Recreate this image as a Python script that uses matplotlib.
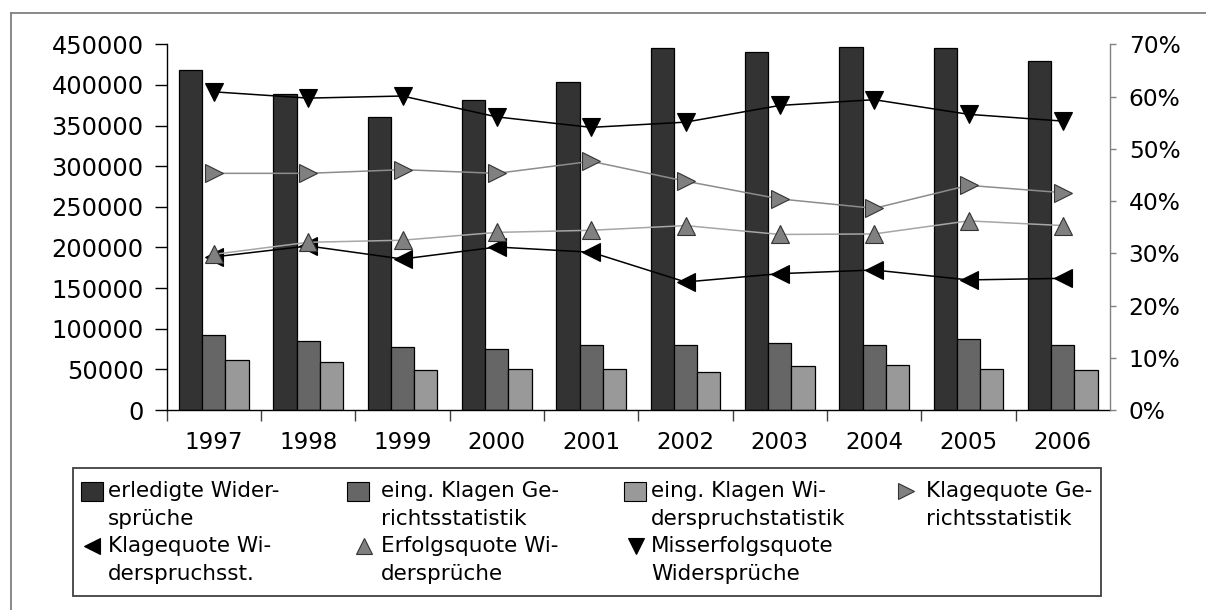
import matplotlib
matplotlib.use("Agg")
import matplotlib.pyplot as plt
from matplotlib.patches import Rectangle
from matplotlib.lines import Line2D
from matplotlib.ticker import FuncFormatter, FixedLocator
import numpy as np

plt.rcParams['font.family'] = ['DejaVu Sans']

years = ["1997", "1998", "1999", "2000", "2001", "2002", "2003", "2004", "2005", "2006"]

# absolute counts (left axis)
erledigte_widersprueche = [418000, 389000, 360000, 382000, 404000, 445000, 440000, 447000, 445000, 430000]
klagen_gerichtsstatistik = [92200, 84800, 77900, 75400, 80000, 80000, 82800, 80000, 87300, 80000]
klagen_widerspruchstatistik = [61000, 58600, 48800, 50800, 50800, 46300, 53700, 55700, 50800, 48800]

# rates in percent (right axis)
klagequote_gericht = [45.3, 45.3, 46.0, 45.3, 47.6, 43.8, 40.4, 38.6, 43.0, 41.6]
klagequote_widerspruch = [29.3, 31.4, 28.9, 31.2, 30.2, 24.5, 26.1, 26.8, 24.9, 25.2]
erfolgsquote = [29.8, 32.1, 32.5, 34.0, 34.4, 35.3, 33.6, 33.7, 36.2, 35.3]
misserfolgsquote = [60.9, 59.7, 60.1, 56.1, 54.1, 55.1, 58.3, 59.4, 56.6, 55.3]

bar_labels = ["erledigte Wider-\nsprüche",
              "eing. Klagen Ge-\nrichtsstatistik",
              "eing. Klagen Wi-\nderspruchstatistik"]
line_labels = ["Klagequote Ge-\nrichtsstatistik",
               "Klagequote Wi-\nderspruchsst.",
               "Erfolgsquote Wi-\ndersprüche",
               "Misserfolgsquote\nWidersprüche"]

bar_colors = ["#333333", "#666666", "#999999"]
line_styles = [  # marker, line colour, marker face, marker edge
    (">", "#8c8c8c", "#808080", "#333333"),
    ("<", "black", "black", "black"),
    ("^", "#a6a6a6", "#808080", "#333333"),
    ("v", "black", "black", "black"),
]

W, H = 1206, 610
fig = plt.figure(figsize=(W / 100, H / 100), dpi=100)


def fx(px):
    return px / W


def fy(py):
    return 1 - py / H


# outer frame (left and top edges)
fig.add_artist(Line2D([fx(11), fx(11)], [0, fy(12.7)], transform=fig.transFigure,
                      color="#808080", lw=1.3))
fig.add_artist(Line2D([fx(11), 1], [fy(12.7), fy(12.7)], transform=fig.transFigure,
                      color="#808080", lw=1.3))

ax = fig.add_axes([fx(166.7), fy(410), (1110 - 166.7) / W, (410 - 44.3) / H])
x = np.arange(len(years))
bw = 0.246
for i, (vals, col) in enumerate(zip([erledigte_widersprueche, klagen_gerichtsstatistik,
                                      klagen_widerspruchstatistik], bar_colors)):
    ax.bar(x + (i - 1) * bw, vals, width=bw, color=col, edgecolor="black", linewidth=0.9)

ax.set_xlim(-0.5, len(years) - 0.5)
ax.set_ylim(0, 450000)
ax.set_yticks(np.arange(0, 450001, 50000))
ax.yaxis.set_major_formatter(FuncFormatter(lambda v, p: f"{int(v)}"))
ax.set_xticks(x)
ax.set_xticklabels(years)
ax.xaxis.set_minor_locator(FixedLocator(np.arange(-0.5, len(years) - 1, 1.0)))
ax.tick_params(axis="x", which="major", length=0, pad=15, labelsize=16.5)
ax.tick_params(axis="x", which="minor", length=8, width=1, color="#404040", direction="out")
ax.tick_params(axis="y", length=8.6, width=1, pad=8, labelsize=17.3, direction="out")
ax.spines["top"].set_visible(False)
ax.spines["right"].set_visible(False)
for s in ("left", "bottom"):
    ax.spines[s].set_linewidth(1.0)

ax2 = ax.twinx()
ax2.set_ylim(0, 0.70)
ax2.set_yticks(np.arange(0, 0.701, 0.10))
ax2.yaxis.set_major_formatter(FuncFormatter(lambda v, p: f"{int(round(v * 100))}%"))
ax2.tick_params(axis="y", length=4.5, width=1, pad=9, labelsize=16.8, color="#808080")
for s in ("top", "left", "bottom"):
    ax2.spines[s].set_visible(False)
ax2.spines["right"].set_color("#808080")
ax2.spines["right"].set_linewidth(1.0)

series = [klagequote_gericht, klagequote_widerspruch, erfolgsquote, misserfolgsquote]
for vals, (m, lc, mf, me) in zip(series, line_styles):
    ax2.plot(x, np.array(vals) / 100, color=lc, lw=1.1,
             marker=m, ms=12.5, mfc=mf, mec=me, mew=0.8)

# legend: frame, keys aligned with the first line of each two-line label
lx0, lx1, ly0, ly1 = 72.7, 1101, 468, 596
fig.add_artist(Rectangle((fx(lx0), fy(ly1)), (lx1 - lx0) / W, (ly1 - ly0) / H,
                         transform=fig.transFigure, fill=False, edgecolor="#404040", lw=1.3))

entries = [
    ("bar", 0, bar_labels[0], 92, 108, 0),
    ("bar", 1, bar_labels[1], 358, 381, 0),
    ("bar", 2, bar_labels[2], 635, 651, 0),
    ("line", 0, line_labels[0], 906, 926, 0),
    ("line", 1, line_labels[1], 92, 108, 1),
    ("line", 2, line_labels[2], 364, 381, 1),
    ("line", 3, line_labels[3], 636, 651, 1),
]
row_base = [497, 552]
line_gap = 28
for kind, idx, label, kx, tx, row in entries:
    base = row_base[row]
    cy = base - 6
    if kind == "bar":
        fig.add_artist(Rectangle((fx(kx - 11), fy(cy + 9.5)), 22 / W, 19 / H,
                                 transform=fig.transFigure, facecolor=bar_colors[idx],
                                 edgecolor="black", lw=0.8))
    else:
        m, lc, mf, me = line_styles[idx]
        fig.add_artist(Line2D([fx(kx)], [fy(cy)], transform=fig.transFigure,
                              linestyle="none", marker=m, ms=11.5, mfc=mf, mec=me, mew=0.8))
    for j, part in enumerate(label.split("\n")):
        fig.text(fx(tx), fy(base + j * line_gap), part, fontsize=15.5,
                 ha="left", va="baseline")

fig.savefig("out.png", dpi=100)
